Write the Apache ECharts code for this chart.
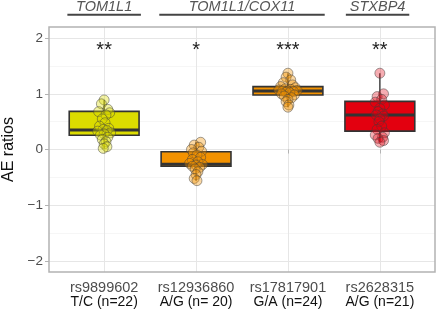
<!DOCTYPE html>
<html><head><meta charset="utf-8">
<script src="https://cdn.jsdelivr.net/npm/echarts@6/dist/echarts.min.js"></script>
<style>html,body{margin:0;padding:0;background:#fff}#c{width:440px;height:311px}</style>
</head><body><div id="c"></div>
<script>
// ---- data ----
const snps = ['rs9899602', 'rs12936860', 'rs17817901', 'rs2628315'];
const alleles = ['T/C (n=22)', 'A/G (n= 20)', 'G/A (n=24)', 'A/G (n=21)'];
const stars = ['**', '*', '***', '**'];
const genes = ['TOM1L1', 'TOM1L1/COX11', 'STXBP4'];
const geneStart = [0.6, 1.6, 3.63];
const geneEnd = [1.4, 3.4, 4.32];
// box stats: [low whisker, q1, median, q3, high whisker]
const box1 = [0.02, 0.255, 0.35, 0.685, 0.89];
const box2 = [-0.56, -0.30, -0.265, -0.04, 0.13];
const box3 = [0.76, 0.98, 1.05, 1.13, 1.37];
const box4 = [0.13, 0.33, 0.62, 0.865, 1.37];
const pts1 = [0.89, 0.82, 0.72, 0.68, 0.66, 0.62, 0.55, 0.48, 0.42, 0.38, 0.36, 0.34, 0.33, 0.30, 0.28, 0.26, 0.22, 0.18, 0.14, 0.10, 0.05, 0.02];
const jit1 = [0.0, -0.03, 0.04, -0.06, 0.06, 0.02, -0.02, 0.01, -0.05, 0.05, -0.01, 0.03, -0.07, 0.07, 0.0, -0.04, 0.04, -0.02, 0.02, 0.0, 0.03, -0.01];
const pts2 = [0.13, 0.08, 0.04, 0.0, -0.03, -0.06, -0.10, -0.14, -0.18, -0.22, -0.25, -0.27, -0.28, -0.30, -0.32, -0.35, -0.40, -0.45, -0.52, -0.56];
const jit2 = [0.05, -0.02, 0.03, -0.05, 0.06, -0.03, 0.01, 0.05, -0.04, 0.02, -0.07, 0.07, 0.0, -0.04, 0.04, -0.01, 0.02, 0.0, -0.02, 0.01];
const pts3 = [1.37, 1.30, 1.25, 1.20, 1.16, 1.13, 1.11, 1.09, 1.08, 1.07, 1.06, 1.05, 1.05, 1.04, 1.03, 1.02, 1.00, 0.98, 0.96, 0.93, 0.90, 0.86, 0.80, 0.76];
const jit3 = [0.0, -0.02, 0.03, -0.05, 0.05, -0.08, 0.08, -0.03, 0.03, -0.1, 0.1, 0.0, -0.06, 0.06, -0.02, 0.02, -0.07, 0.07, -0.04, 0.04, 0.0, -0.02, 0.01, 0.0];
const pts4 = [1.37, 1.00, 0.95, 0.90, 0.85, 0.80, 0.74, 0.68, 0.64, 0.62, 0.60, 0.55, 0.50, 0.42, 0.36, 0.30, 0.26, 0.22, 0.20, 0.16, 0.13];
const jit4 = [0.0, 0.04, -0.03, 0.02, -0.05, 0.05, 0.0, -0.02, 0.03, -0.04, 0.04, 0.0, -0.01, 0.02, -0.03, 0.05, -0.05, 0.03, -0.02, 0.04, 0.0];
const yTicks = [-2, -1, 0, 1, 2];
const yMinor = [-1.5, -0.5, 0.5, 1.5];
const xTicks = [1, 2, 3, 4];

const fills = ['#dcdc00', '#f39200', '#f39200', '#e3000f'];
const ptFills = ['rgba(220,220,0,0.45)', 'rgba(243,146,0,0.45)', 'rgba(243,146,0,0.45)', 'rgba(227,0,15,0.40)'];

const boxes = [box1, box2, box3, box4];
const ptsAll = [pts1, pts2, pts3, pts4];
const jitAll = [jit1, jit2, jit3, jit4];

const fmtY = v => v < 0 ? '\u2212' + Math.abs(v) : String(v);

const series = [];
// gridlines
series.push({
  type: 'line', data: [], silent: true, z: 0,
  markLine: {
    silent: true, symbol: 'none', animation: false, label: {show: false}, z: 0,
    data: [
      ...yMinor.map(v => ({yAxis: v, lineStyle: {color: '#f0f0f0', width: 0.6, type: 'solid'}})),
      ...yTicks.map(v => ({yAxis: v, lineStyle: {color: '#e6e6e6', width: 1, type: 'solid'}})),
      ...xTicks.map(v => ({xAxis: v, lineStyle: {color: '#e6e6e6', width: 1, type: 'solid'}}))
    ]
  }
});
// boxes
series.push({
  type: 'custom', z: 2,
  data: boxes.map((b, i) => [i + 1, ...b]),
  renderItem: (params, api) => {
    const x = api.value(0);
    const i = params.dataIndex;
    const hw = 0.38;
    const lo = api.coord([x, api.value(1)]);
    const q1 = api.coord([x, api.value(2)]);
    const md = api.coord([x, api.value(3)]);
    const q3 = api.coord([x, api.value(4)]);
    const hi = api.coord([x, api.value(5)]);
    const l = api.coord([x - hw, 0])[0];
    const r = api.coord([x + hw, 0])[0];
    return {type: 'group', children: [
      {type: 'line', shape: {x1: lo[0], y1: lo[1], x2: q1[0], y2: q1[1]}, style: {stroke: '#222', lineWidth: 1.2}},
      {type: 'line', shape: {x1: q3[0], y1: q3[1], x2: hi[0], y2: hi[1]}, style: {stroke: '#222', lineWidth: 1.2}},
      {type: 'rect', shape: {x: l, y: q3[1], width: r - l, height: q1[1] - q3[1]}, style: {fill: fills[i], stroke: '#333', lineWidth: 1.6}},
      {type: 'line', shape: {x1: l, y1: md[1], x2: r, y2: md[1]}, style: {stroke: '#333', lineWidth: 3}}
    ]};
  }
});
// points
ptsAll.forEach((pts, gi) => {
  series.push({
    type: 'scatter', z: 3, symbolSize: 10,
    data: pts.map((v, k) => [gi + 1 + jitAll[gi][k], v]),
    itemStyle: {color: ptFills[gi], borderColor: 'rgba(60,60,60,0.6)', borderWidth: 1}
  });
});
// stars
series.push({
  type: 'custom', z: 4,
  data: stars.map((s, i) => [i + 1, 1.78]),
  renderItem: (params, api) => {
    const p = api.coord([api.value(0), api.value(1)]);
    return {type: 'text', x: p[0], y: p[1], style: {text: stars[params.dataIndex], fill: '#222', font: '20px "Liberation Sans", Arial, sans-serif', align: 'center', verticalAlign: 'middle'}};
  }
});
// gene labels
series.push({
  type: 'custom', z: 4, clip: false,
  data: genes.map((g, i) => [geneStart[i], geneEnd[i]]),
  renderItem: (params, api) => {
    const a = api.coord([api.value(0), 2.42]);
    const b = api.coord([api.value(1), 2.42]);
    const t = api.coord([(api.value(0) + api.value(1)) / 2, 2.555]);
    return {type: 'group', children: [
      {type: 'line', shape: {x1: a[0], y1: a[1], x2: b[0], y2: b[1]}, style: {stroke: '#444', lineWidth: 2}},
      {type: 'text', x: t[0], y: t[1], style: {text: genes[params.dataIndex], fill: '#555', font: 'italic 14.5px "Liberation Sans", Arial, sans-serif', align: 'center', verticalAlign: 'middle'}}
    ]};
  }
});

const chart = echarts.init(document.getElementById('c'), null, {renderer: 'canvas'});
chart.setOption({
  animation: false,
  backgroundColor: '#fff',
  grid: {left: 49, right: 5, top: 27, bottom: 39, containLabel: false, outerBoundsMode: 'none', show: true, borderColor: '#b3b3b3', borderWidth: 1.5, backgroundColor: 'transparent', z: 5},
  xAxis: {
    type: 'value', min: 0.4, max: 4.6,
    axisLine: {show: false},
    splitLine: {show: false},
    axisTick: {show: true, customValues: xTicks, length: 4, lineStyle: {color: '#b3b3b3'}},
    axisLabel: {
      customValues: xTicks, margin: 8,
      formatter: v => '{a|' + snps[v - 1] + '}\n{b|' + alleles[v - 1] + '}',
      rich: {
        a: {fontSize: 14.5, color: '#4d4d4d', fontFamily: 'Liberation Sans', lineHeight: 15},
        b: {fontSize: 14, color: '#111', fontFamily: 'Liberation Sans', lineHeight: 15}
      }
    }
  },
  yAxis: {
    type: 'value', min: -2.2, max: 2.2,
    name: 'AE ratios', nameLocation: 'middle', nameGap: 26, nameRotate: 90,
    nameTextStyle: {fontSize: 16, color: '#111', fontFamily: 'Liberation Sans'},
    axisLine: {show: false},
    splitLine: {show: false},
    axisTick: {show: true, customValues: yTicks, length: 4, lineStyle: {color: '#b3b3b3'}},
    axisLabel: {customValues: yTicks, formatter: fmtY, fontSize: 13.5, color: '#4d4d4d', fontFamily: 'Liberation Sans', margin: 6}
  },
  series
});
</script></body></html>
